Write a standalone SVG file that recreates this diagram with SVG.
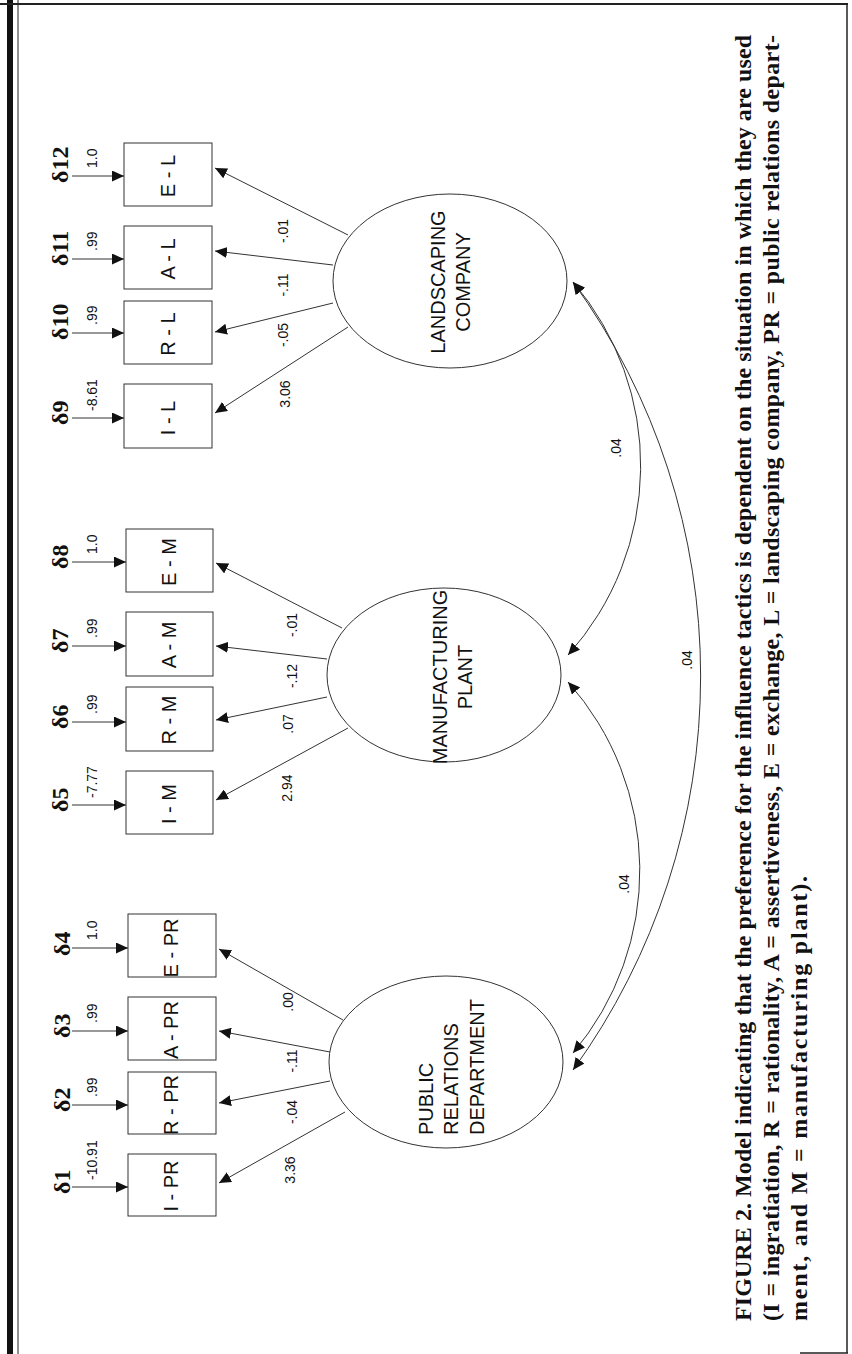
<svg xmlns="http://www.w3.org/2000/svg" width="852" height="1354" viewBox="0 0 852 1354">
<style>
.bg{fill:#fff}
.box{fill:#fff;stroke:#333;stroke-width:1}
.ell{fill:#fff;stroke:#333;stroke-width:1}
.ln{fill:none;stroke:#333;stroke-width:1}
.arr{marker-end:url(#ah)}
.dbl{marker-start:url(#ahs);marker-end:url(#ah)}
.bl{font-family:"Liberation Sans",Arial,sans-serif;font-size:20px;fill:#111;text-anchor:middle}
.lv{font-family:"Liberation Sans",Arial,sans-serif;font-size:20px;fill:#111}
.num{font-family:"Liberation Sans",Arial,sans-serif;font-size:14px;fill:#111}
.mid{text-anchor:middle}
.dl{font-family:"Liberation Serif","Times New Roman",serif;font-size:24px;font-weight:bold;fill:#111}
.cap{font-family:"Liberation Serif","Times New Roman",serif;font-size:24px;font-weight:bold;fill:#111}
</style>
<defs>
<marker id="ah" markerUnits="userSpaceOnUse" markerWidth="12" markerHeight="11" refX="12" refY="5.5" orient="auto"><path d="M0,0 L12,5.5 L0,11 z" fill="#111"/></marker>
<marker id="ahs" markerUnits="userSpaceOnUse" markerWidth="12" markerHeight="11" refX="12" refY="5.5" orient="auto-start-reverse"><path d="M0,0 L12,5.5 L0,11 z" fill="#111"/></marker>
</defs>
<rect class="bg" x="0" y="0" width="852" height="1354"/>
<g id="frame">
<rect x="7" y="0" width="6" height="1354" fill="#111"/>
<line x1="18" y1="0" x2="18" y2="1354" stroke="#222" stroke-width="1"/>
<line x1="0" y1="4" x2="848" y2="4" stroke="#222" stroke-width="2"/>
<line x1="847" y1="4" x2="847" y2="1353" stroke="#222" stroke-width="1.5"/>
<line x1="800" y1="1353" x2="848" y2="1353" stroke="#222" stroke-width="1.5"/>
</g>
<g id="connectors">
<line class="ln arr" x1="72" y1="176" x2="124" y2="176"/>
<line class="ln arr" x1="72" y1="259" x2="124" y2="259"/>
<line class="ln arr" x1="72" y1="333" x2="124" y2="333"/>
<line class="ln arr" x1="72" y1="418" x2="124" y2="418"/>
<line class="ln arr" x1="72" y1="562" x2="126" y2="562"/>
<line class="ln arr" x1="72" y1="646" x2="126" y2="646"/>
<line class="ln arr" x1="72" y1="722" x2="126" y2="722"/>
<line class="ln arr" x1="72" y1="805" x2="126" y2="805"/>
<line class="ln arr" x1="72" y1="948" x2="128" y2="948"/>
<line class="ln arr" x1="72" y1="1031" x2="128" y2="1031"/>
<line class="ln arr" x1="72" y1="1105" x2="128" y2="1105"/>
<line class="ln arr" x1="72" y1="1187" x2="128" y2="1187"/>
<line class="ln arr" x1="348" y1="235" x2="215" y2="168"/>
<line class="ln arr" x1="333" y1="265" x2="215" y2="251"/>
<line class="ln arr" x1="333" y1="303" x2="215" y2="332"/>
<line class="ln arr" x1="348" y1="327" x2="215" y2="413"/>
<line class="ln arr" x1="342" y1="628" x2="216" y2="563"/>
<line class="ln arr" x1="327" y1="659" x2="216" y2="646"/>
<line class="ln arr" x1="327" y1="697" x2="216" y2="720"/>
<line class="ln arr" x1="348" y1="728" x2="216" y2="800"/>
<line class="ln arr" x1="343" y1="1020" x2="219" y2="949"/>
<line class="ln arr" x1="330" y1="1052" x2="219" y2="1031"/>
<line class="ln arr" x1="330" y1="1081" x2="219" y2="1103"/>
<line class="ln arr" x1="345" y1="1112" x2="219" y2="1183"/>
<path class="ln dbl" d="M573,282 A283,283 0 0 1 568,655"/>
<path class="ln dbl" d="M568,682 A283,283 0 0 1 573,1053"/>
<path class="ln dbl" d="M573,282 A672,672 0 0 1 573,1070"/>
<g class="num">
<text transform="translate(97,168) rotate(-90)">1.0</text>
<text transform="translate(97,251) rotate(-90)">.99</text>
<text transform="translate(97,325) rotate(-90)">.99</text>
<text transform="translate(97,411) rotate(-90)">-8.61</text>
<text transform="translate(97,554) rotate(-90)">1.0</text>
<text transform="translate(97,638) rotate(-90)">.99</text>
<text transform="translate(97,714) rotate(-90)">.99</text>
<text transform="translate(97,798) rotate(-90)">-7.77</text>
<text transform="translate(97,940) rotate(-90)">1.0</text>
<text transform="translate(97,1023) rotate(-90)">.99</text>
<text transform="translate(97,1097) rotate(-90)">.99</text>
<text transform="translate(97,1180) rotate(-90)">-10.91</text>
</g>
<g class="num mid">
<text transform="translate(288,231) rotate(-90)">-.01</text>
<text transform="translate(288,285) rotate(-90)">-.11</text>
<text transform="translate(288,335) rotate(-90)">-.05</text>
<text transform="translate(290,394) rotate(-90)">3.06</text>
<text transform="translate(297,625) rotate(-90)">-.01</text>
<text transform="translate(297,676) rotate(-90)">-.12</text>
<text transform="translate(293,724) rotate(-90)">.07</text>
<text transform="translate(292,788) rotate(-90)">2.94</text>
<text transform="translate(293,1002) rotate(-90)">.00</text>
<text transform="translate(297,1061) rotate(-90)">-.11</text>
<text transform="translate(297,1112) rotate(-90)">-.04</text>
<text transform="translate(295,1170) rotate(-90)">3.36</text>
<text transform="translate(621,448) rotate(-90)">.04</text>
<text transform="translate(629,884) rotate(-90)">.04</text>
<text transform="translate(692,660) rotate(-90)">.04</text>
</g>
</g>
<g id="errors" class="dl">
<text id="d12" transform="translate(68,183) rotate(-90)">δ12</text>
<text id="d11" transform="translate(68,266) rotate(-90)">δ11</text>
<text id="d10" transform="translate(68,340) rotate(-90)">δ10</text>
<text id="d9" transform="translate(68,425) rotate(-90)">δ9</text>
<text id="d8" transform="translate(68,569) rotate(-90)">δ8</text>
<text id="d7" transform="translate(68,653) rotate(-90)">δ7</text>
<text id="d6" transform="translate(68,729) rotate(-90)">δ6</text>
<text id="d5" transform="translate(68,812) rotate(-90)">δ5</text>
<text id="d4" transform="translate(70,956) rotate(-90)">δ4</text>
<text id="d3" transform="translate(70,1038) rotate(-90)">δ3</text>
<text id="d2" transform="translate(70,1112) rotate(-90)">δ2</text>
<text id="d1" transform="translate(70,1194) rotate(-90)">δ1</text>
</g>
<g id="box-E-L"><rect class="box" x="124" y="143" width="88" height="63"/><text class="bl" transform="translate(175,176) rotate(-90)">E - L</text></g>
<g id="box-A-L"><rect class="box" x="124" y="226" width="88" height="63"/><text class="bl" transform="translate(175,259) rotate(-90)">A - L</text></g>
<g id="box-R-L"><rect class="box" x="124" y="301" width="88" height="63"/><text class="bl" transform="translate(175,334) rotate(-90)">R - L</text></g>
<g id="box-I-L"><rect class="box" x="124" y="384" width="88" height="64"/><text class="bl" transform="translate(175,418) rotate(-90)">I - L</text></g>
<g id="box-E-M"><rect class="box" x="126" y="529" width="87" height="63"/><text class="bl" transform="translate(176,562) rotate(-90)">E - M</text></g>
<g id="box-A-M"><rect class="box" x="126" y="612" width="87" height="64"/><text class="bl" transform="translate(176,645) rotate(-90)">A - M</text></g>
<g id="box-R-M"><rect class="box" x="126" y="687" width="87" height="64"/><text class="bl" transform="translate(176,720) rotate(-90)">R - M</text></g>
<g id="box-I-M"><rect class="box" x="126" y="771" width="87" height="63"/><text class="bl" transform="translate(176,804) rotate(-90)">I - M</text></g>
<g id="box-E-PR"><rect class="box" x="128" y="914" width="88" height="63"/><text class="bl" transform="translate(178,948) rotate(-90)">E - PR</text></g>
<g id="box-A-PR"><rect class="box" x="128" y="997" width="88" height="63"/><text class="bl" transform="translate(178,1030) rotate(-90)">A - PR</text></g>
<g id="box-R-PR"><rect class="box" x="128" y="1072" width="88" height="62"/><text class="bl" transform="translate(178,1105) rotate(-90)">R - PR</text></g>
<g id="box-I-PR"><rect class="box" x="128" y="1154" width="88" height="62"/><text class="bl" transform="translate(178,1186) rotate(-90)">I - PR</text></g>
<g id="latent-L"><ellipse class="ell" cx="450" cy="281" rx="117" ry="87"/><text class="lv mid" transform="translate(445,282) rotate(-90)">LANDSCAPING</text><text class="lv mid" transform="translate(470,282) rotate(-90)">COMPANY</text></g>
<g id="latent-M"><ellipse class="ell" cx="444" cy="675" rx="117" ry="87"/><text class="lv mid" transform="translate(447,677) rotate(-90)">MANUFACTURING</text><text class="lv mid" transform="translate(472,677) rotate(-90)">PLANT</text></g>
<g id="latent-PR"><ellipse class="ell" cx="446" cy="1062" rx="117" ry="86"/><text class="lv" transform="translate(433,1135) rotate(-90)">PUBLIC</text><text class="lv" transform="translate(458,1135) rotate(-90)">RELATIONS</text><text class="lv" transform="translate(484,1135) rotate(-90)">DEPARTMENT</text></g>
<g id="caption" class="cap">
<text transform="translate(751,1321) rotate(-90)" textLength="1286" lengthAdjust="spacing">FIGURE 2. Model indicating that the preference for the influence tactics is dependent on the situation in which they are used</text>
<text transform="translate(779,1321) rotate(-90)" textLength="1286" lengthAdjust="spacing">(I = ingratiation, R = rationality, A = assertiveness, E = exchange, L = landscaping company, PR = public relations depart-</text>
<text transform="translate(807,1321) rotate(-90)" textLength="445" lengthAdjust="spacing">ment, and M = manufacturing plant).</text>
</g>
</svg>
